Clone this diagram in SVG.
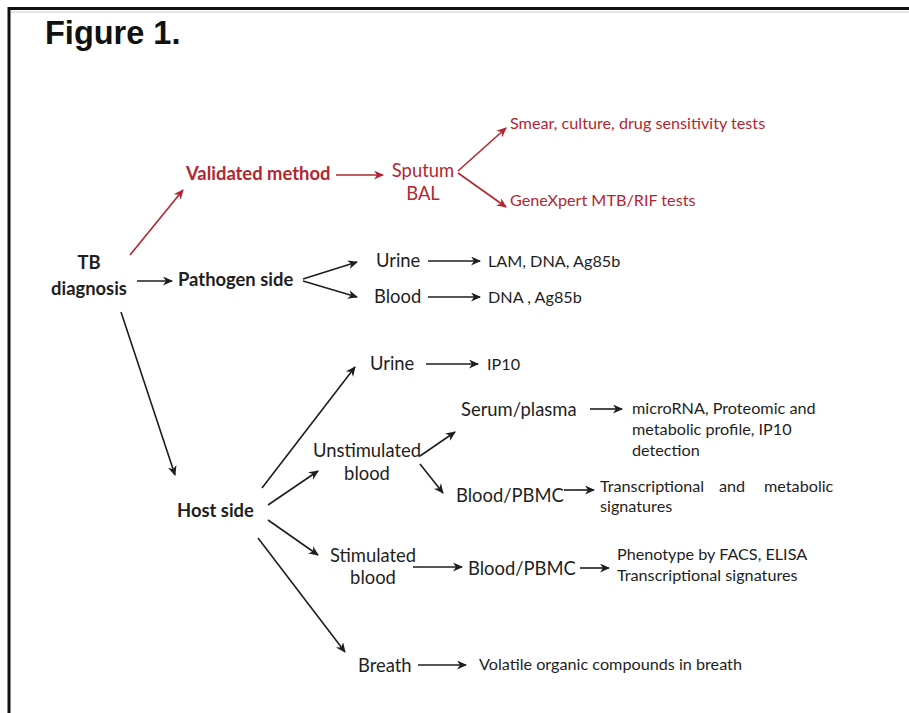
<svg xmlns="http://www.w3.org/2000/svg" width="909" height="713" viewBox="0 0 909 713">
<style>
  .t{font-family:"Lato","Liberation Sans",sans-serif;fill:#1e1e1e;font-size:18.4px}
  .s{font-size:16.2px}
  .b{font-weight:bold}
  .r{fill:#b32630}
  .c{stroke:#1e1e1e;stroke-width:1.6;fill:none;marker-end:url(#ak)}
  .cr{stroke:#b32630;stroke-width:1.6;fill:none;marker-end:url(#ar)}
</style>
<defs>
  <marker id="ak" markerUnits="userSpaceOnUse" markerWidth="11" markerHeight="10" refX="9" refY="4.5" orient="auto">
    <path d="M0,0 L10,4.5 L0,9 L3,4.5 z" fill="#1e1e1e"/>
  </marker>
  <marker id="ar" markerUnits="userSpaceOnUse" markerWidth="11" markerHeight="10" refX="9" refY="4.5" orient="auto">
    <path d="M0,0 L10,4.5 L0,9 L3,4.5 z" fill="#b32630"/>
  </marker>
</defs>
<rect width="909" height="713" fill="#fff"/>
<path d="M9,713 V8.5 H909" stroke="#111" stroke-width="3" fill="none"/>
<line x1="11" y1="12" x2="909" y2="12" stroke="#ccc" stroke-width="1"/>
<text x="45" y="44" font-family="Liberation Sans,Arial,sans-serif" font-weight="bold" font-size="32.5" fill="#111">Figure 1.</text>

<g id="connectors">
  <line class="cr" x1="130" y1="255" x2="183" y2="190"/>
  <line class="cr" x1="336" y1="175" x2="383" y2="175"/>
  <line class="cr" x1="458" y1="171" x2="506" y2="128"/>
  <line class="cr" x1="458" y1="173" x2="506" y2="207"/>
  <line class="c" x1="137" y1="281" x2="172" y2="281"/>
  <line class="c" x1="303" y1="279" x2="357" y2="262"/>
  <line class="c" x1="303" y1="281" x2="357" y2="297"/>
  <line class="c" x1="428" y1="261" x2="480" y2="261"/>
  <line class="c" x1="428" y1="297" x2="480" y2="297"/>
  <line class="c" x1="121" y1="312" x2="175" y2="475"/>
  <line class="c" x1="262" y1="488" x2="355" y2="367"/>
  <line class="c" x1="426" y1="364" x2="478" y2="364"/>
  <line class="c" x1="268" y1="505" x2="318" y2="471"/>
  <line class="c" x1="420" y1="456" x2="455" y2="432"/>
  <line class="c" x1="590" y1="409" x2="622" y2="409"/>
  <line class="c" x1="420" y1="464" x2="443" y2="493"/>
  <line class="c" x1="564" y1="490" x2="594" y2="490"/>
  <line class="c" x1="268" y1="520" x2="318" y2="555"/>
  <line class="c" x1="413" y1="567" x2="462" y2="567"/>
  <line class="c" x1="580" y1="568" x2="609" y2="568"/>
  <line class="c" x1="258" y1="538" x2="345" y2="652"/>
  <line class="c" x1="418" y1="665" x2="466" y2="665"/>
</g>

<g id="tb-diagnosis"><text class="t b" text-anchor="middle"><tspan x="89" y="269">TB</tspan><tspan x="89" y="295">diagnosis</tspan></text></g>
<g id="validated-method"><text class="t b r" x="186" y="180">Validated method</text></g>
<g id="sputum"><text class="t r" text-anchor="middle"><tspan x="423" y="177">Sputum</tspan><tspan x="423" y="200">BAL</tspan></text></g>
<g id="smear"><text class="t s r" x="510" y="129">Smear, culture, drug sensitivity tests</text></g>
<g id="genexpert"><text class="t s r" x="510" y="206">GeneXpert MTB/RIF tests</text></g>

<g id="pathogen-side"><text class="t b" x="178" y="286">Pathogen side</text></g>
<g id="p-urine"><text class="t" x="376" y="267">Urine</text></g>
<g id="p-urine-out"><text class="t s" x="488" y="267">LAM, DNA, Ag85b</text></g>
<g id="p-blood"><text class="t" x="374" y="303">Blood</text></g>
<g id="p-blood-out"><text class="t s" x="488" y="303">DNA , Ag85b</text></g>

<g id="host-side"><text class="t b" x="177" y="517">Host side</text></g>
<g id="h-urine"><text class="t" x="370" y="370">Urine</text></g>
<g id="h-urine-out"><text class="t s" x="487" y="370">IP10</text></g>
<g id="unstimulated"><text class="t" text-anchor="middle"><tspan x="367" y="457">Unstimulated</tspan><tspan x="367" y="480">blood</tspan></text></g>
<g id="serum"><text class="t" x="461" y="416">Serum/plasma</text></g>
<g id="serum-out"><text class="t s"><tspan x="632" y="414">microRNA, Proteomic and</tspan><tspan x="632" y="435">metabolic profile, IP10</tspan><tspan x="632" y="456">detection</tspan></text></g>
<g id="pbmc1"><text class="t" x="456" y="502">Blood/PBMC</text></g>
<g id="pbmc1-out"><text class="t s"><tspan x="600" y="492">Transcriptional</tspan><tspan x="719" y="492">and</tspan><tspan x="764" y="492">metabolic</tspan><tspan x="600" y="512">signatures</tspan></text></g>
<g id="stimulated"><text class="t" text-anchor="middle"><tspan x="373" y="562">Stimulated</tspan><tspan x="373" y="584">blood</tspan></text></g>
<g id="pbmc2"><text class="t" x="468" y="575">Blood/PBMC</text></g>
<g id="pbmc2-out"><text class="t s"><tspan x="617" y="560">Phenotype by FACS, ELISA</tspan><tspan x="617" y="581">Transcriptional signatures</tspan></text></g>
<g id="breath"><text class="t" x="358" y="672">Breath</text></g>
<g id="breath-out"><text class="t s" x="479" y="670">Volatile organic compounds  in breath</text></g>
</svg>
